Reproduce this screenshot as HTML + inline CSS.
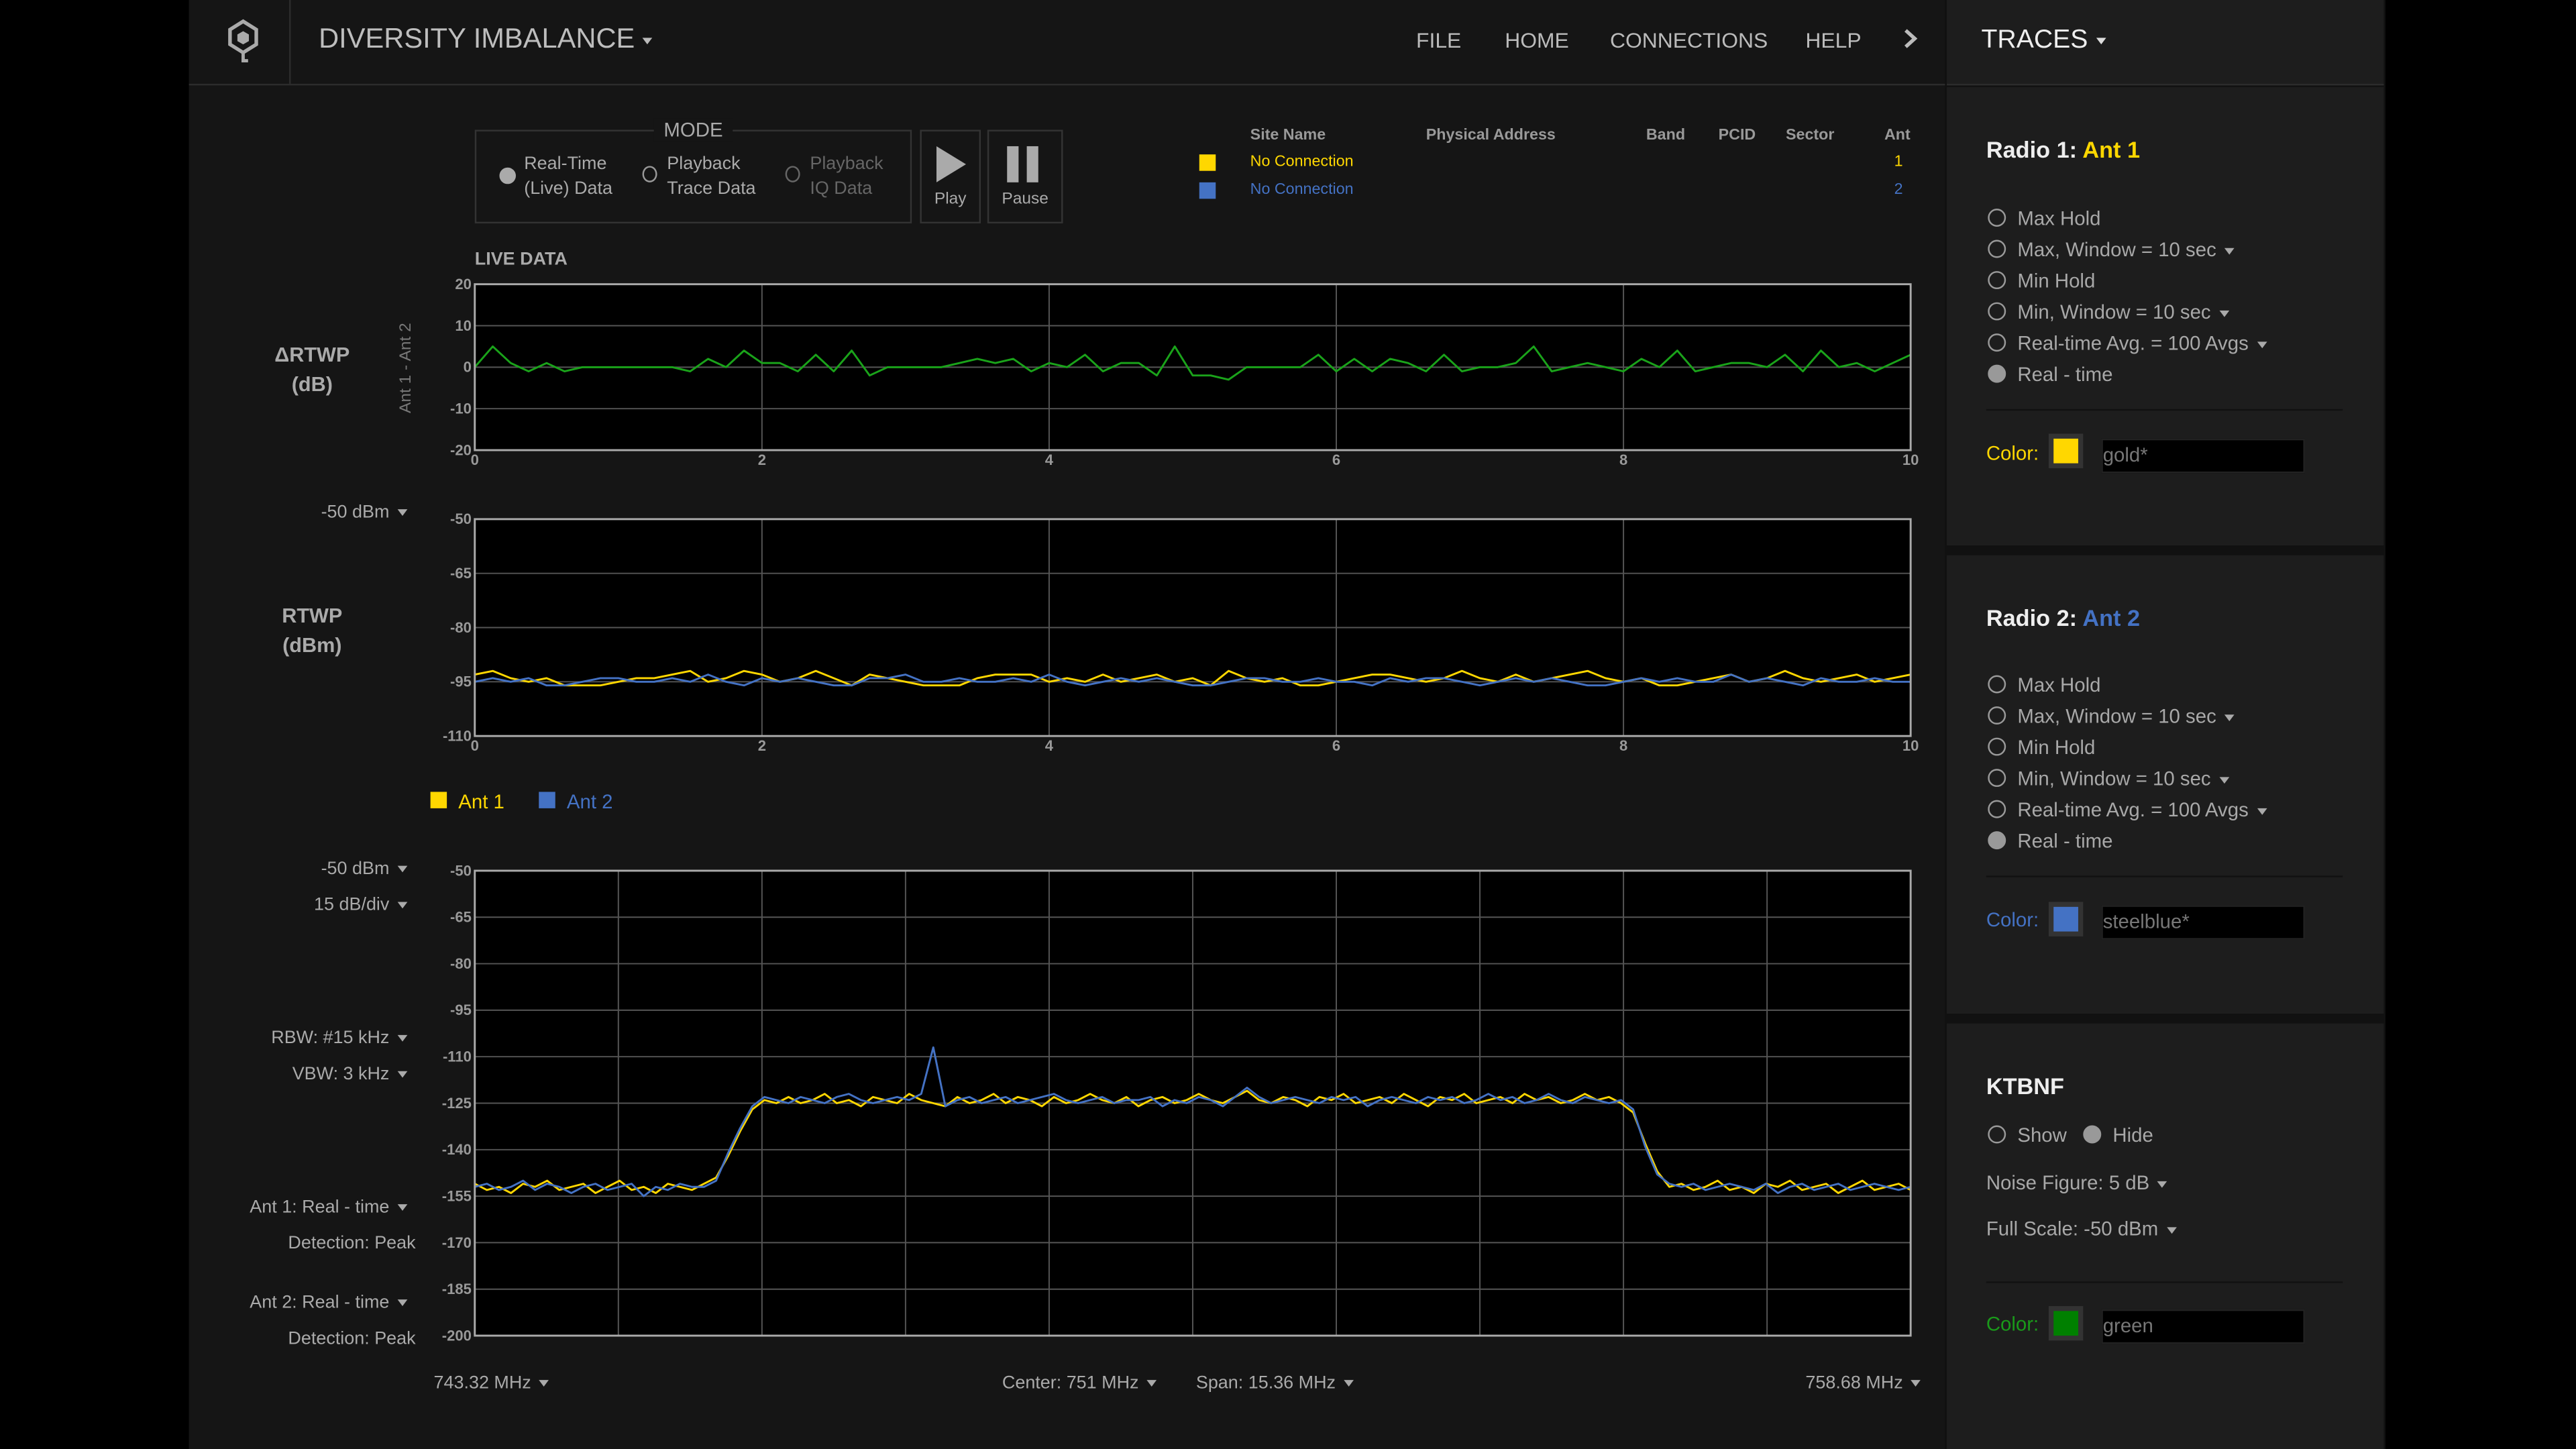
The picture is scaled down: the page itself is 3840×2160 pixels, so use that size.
<!DOCTYPE html>
<html><head><meta charset="utf-8">
<style>
html,body{margin:0;padding:0;width:3840px;height:2160px;overflow:hidden;background:#000;}
#root{position:absolute;left:0;top:0;width:1568px;height:882px;transform:scale(2.44898);transform-origin:0 0;background:#000;font-family:"Liberation Sans",sans-serif;color:#bbb;}
.abs{position:absolute;white-space:nowrap;}
#main{position:absolute;left:115px;top:0;width:1069px;height:882px;background:#151515;}
#rp{position:absolute;left:1184px;top:0;width:268px;height:882px;background:#111;}
.sec{position:absolute;left:1px;width:266px;background:#1d1d1d;}
.caret{display:inline-block;width:0;height:0;border-left:3px solid transparent;border-right:3px solid transparent;border-top:4px solid #aaa;margin-left:5px;vertical-align:middle;}
.opt{position:absolute;left:25px;font-size:12px;color:#a8a8a8;}
.rad{display:inline-block;width:9px;height:9px;border:1px solid #999;border-radius:50%;vertical-align:-1px;margin-right:7px;}
.rad.on{background:#999;}
.lbl{position:absolute;font-size:11px;color:#aaa;text-align:right;white-space:nowrap;}
.hdr{font-size:9.5px;font-weight:bold;color:#999;position:absolute;}
</style></head><body>
<div id="root">
<div id="main"></div>

<!-- header -->
<div class="abs" style="left:115px;top:0;width:1069px;height:51px;border-bottom:1px solid #2c2c2c;"></div>
<svg class="abs" style="left:138px;top:11px" width="20" height="28" viewBox="0 0 20 28"><path d="M10 2 L18 7 L18 16 L10 21 L2 16 L2 7 Z" fill="none" stroke="#aaa" stroke-width="2.2"/><path d="M10 8 L13.5 10 L13.5 14 L10 16 L6.5 14 L6.5 10Z" fill="#aaa"/><path d="M10 21 L10 26 L13 26" fill="none" stroke="#aaa" stroke-width="2"/></svg>
<div class="abs" style="left:176px;top:0;width:1px;height:51px;background:#2c2c2c"></div>
<div class="abs" style="left:194px;top:14px;font-size:17px;color:#bdbdbd;">DIVERSITY IMBALANCE<span class="caret" style="border-top-color:#bbb"></span></div>
<div class="abs" style="left:862px;top:17px;font-size:13px;">FILE</div>
<div class="abs" style="left:916px;top:17px;font-size:13px;">HOME</div>
<div class="abs" style="left:980px;top:17px;font-size:13px;">CONNECTIONS</div>
<div class="abs" style="left:1099px;top:17px;font-size:13px;">HELP</div>
<svg class="abs" style="left:1158px;top:17px" width="10" height="13"><path d="M2 1.5 L7.5 6.5 L2 11.5" fill="none" stroke="#bbb" stroke-width="2.2"/></svg>

<!-- mode box -->
<div class="abs" style="left:289px;top:79px;width:264px;height:55px;border:1px solid #333;"></div>
<div class="abs" style="left:398px;top:72px;font-size:12px;background:#151515;padding:0 6px;color:#aaa">MODE</div>
<div class="abs" style="left:304px;top:93px;font-size:11px;color:#aaa;line-height:15px"><span class="rad on" style="position:absolute;left:0;top:9px;width:8px;height:8px;border-color:#aaa;background:#aaa"></span><span style="position:absolute;left:15px">Real-Time<br>(Live) Data</span></div>
<div class="abs" style="left:391px;top:93px;font-size:11px;color:#aaa;line-height:15px"><span class="rad" style="position:absolute;left:0;top:8px;width:7px;height:8px"></span><span style="position:absolute;left:15px">Playback<br>Trace Data</span></div>
<div class="abs" style="left:478px;top:93px;font-size:11px;color:#666;line-height:15px"><span class="rad" style="position:absolute;left:0;top:8px;width:7px;height:8px;border-color:#666"></span><span style="position:absolute;left:15px">Playback<br>IQ Data</span></div>
<div class="abs" style="left:560px;top:79px;width:35px;height:55px;border:1px solid #333;"><svg style="position:absolute;left:9px;top:9px" width="18" height="22"><path d="M0 0 L18 11 L0 22Z" fill="#aaa"/></svg><div style="position:absolute;left:0;width:35px;top:36px;text-align:center;font-size:10px;color:#aaa">Play</div></div>
<div class="abs" style="left:601px;top:79px;width:44px;height:55px;border:1px solid #333;"><div style="position:absolute;left:11px;top:9px;width:7px;height:22px;background:#aaa"></div><div style="position:absolute;left:23px;top:9px;width:7px;height:22px;background:#aaa"></div><div style="position:absolute;left:0;width:44px;top:36px;text-align:center;font-size:10px;color:#aaa">Pause</div></div>

<!-- site table -->
<div class="hdr" style="left:761px;top:77px">Site Name</div>
<div class="hdr" style="left:868px;top:77px">Physical Address</div>
<div class="hdr" style="left:1002px;top:77px">Band</div>
<div class="hdr" style="left:1046px;top:77px">PCID</div>
<div class="hdr" style="left:1087px;top:77px">Sector</div>
<div class="hdr" style="left:1147px;top:77px">Ant</div>
<div class="abs" style="left:730px;top:94px;width:10px;height:10px;background:#ffd700"></div>
<div class="abs" style="left:761px;top:93px;font-size:9.5px;color:#ffd700">No Connection</div>
<div class="abs" style="left:1153px;top:93px;font-size:9.5px;color:#ffd700">1</div>
<div class="abs" style="left:730px;top:111px;width:10px;height:10px;background:#4472c4"></div>
<div class="abs" style="left:761px;top:110px;font-size:9.5px;color:#4472c4">No Connection</div>
<div class="abs" style="left:1153px;top:110px;font-size:9.5px;color:#4472c4">2</div>

<div class="abs" style="left:289px;top:152px;font-size:11px;font-weight:bold;color:#aaa">LIVE DATA</div>

<!-- left labels -->
<div class="abs" style="left:160px;top:207px;width:60px;text-align:center;font-size:12.5px;font-weight:bold;color:#aaa;line-height:18px">&#916;RTWP<br>(dB)</div>
<div class="abs" style="left:213px;top:218px;width:70px;text-align:center;font-size:10px;color:#777;transform:rotate(-90deg);transform-origin:35px 6px;">Ant 1 - Ant 2</div>
<div class="lbl" style="right:1320px;top:306px">-50 dBm<span class="caret"></span></div>
<div class="abs" style="left:160px;top:366px;width:60px;text-align:center;font-size:12.5px;font-weight:bold;color:#aaa;line-height:18px">RTWP<br>(dBm)</div>
<div class="abs" style="left:262px;top:481px;font-size:12px;color:#ffd700"><span style="display:inline-block;width:10px;height:10px;background:#ffd700;margin-right:7px"></span>Ant 1</div>
<div class="abs" style="left:328px;top:481px;font-size:12px;color:#4472c4"><span style="display:inline-block;width:10px;height:10px;background:#4472c4;margin-right:7px"></span>Ant 2</div>
<div class="lbl" style="right:1320px;top:523px">-50 dBm<span class="caret"></span></div>
<div class="lbl" style="right:1320px;top:545px">15 dB/div<span class="caret"></span></div>
<div class="lbl" style="right:1320px;top:626px">RBW: #15 kHz<span class="caret"></span></div>
<div class="lbl" style="right:1320px;top:648px">VBW: 3 kHz<span class="caret"></span></div>
<div class="lbl" style="right:1320px;top:729px">Ant 1: Real - time<span class="caret"></span></div>
<div class="lbl" style="right:1315px;top:751px">Detection: Peak</div>
<div class="lbl" style="right:1320px;top:787px">Ant 2: Real - time<span class="caret"></span></div>
<div class="lbl" style="right:1315px;top:809px">Detection: Peak</div>
<div class="abs" style="left:264px;top:836px;font-size:11px;color:#aaa">743.32 MHz<span class="caret"></span></div>
<div class="abs" style="left:610px;top:836px;font-size:11px;color:#aaa">Center: 751 MHz<span class="caret"></span></div>
<div class="abs" style="left:728px;top:836px;font-size:11px;color:#aaa">Span: 15.36 MHz<span class="caret"></span></div>
<div class="abs" style="left:1099px;top:836px;font-size:11px;color:#aaa">758.68 MHz<span class="caret"></span></div>

<svg id="charts" class="abs" style="left:0;top:0" width="1184" height="882"></svg>

<!-- right panel -->
<div id="rp">
  <div class="sec" style="top:0;height:51px;border-bottom:1px solid #2c2c2c">
    <div class="abs" style="left:21px;top:16px;font-size:16px;color:#eee">TRACES<span class="caret" style="border-top-color:#ddd"></span></div>
  </div>
  <div class="sec" style="top:53px;height:279px">
    <div class="abs" style="left:24px;top:30px;font-size:14px;font-weight:bold;color:#eee">Radio 1: <span style="color:#ffd700">Ant 1</span></div>
    <div class="opt" style="top:73px"><span class="rad"></span>Max Hold</div>
    <div class="opt" style="top:92px"><span class="rad"></span>Max, Window = 10 sec<span class="caret"></span></div>
    <div class="opt" style="top:111px"><span class="rad"></span>Min Hold</div>
    <div class="opt" style="top:130px"><span class="rad"></span>Min, Window = 10 sec<span class="caret"></span></div>
    <div class="opt" style="top:149px"><span class="rad"></span>Real-time Avg. = 100 Avgs<span class="caret"></span></div>
    <div class="opt" style="top:168px"><span class="rad on"></span>Real - time</div>
    <div class="abs" style="left:24px;top:196px;width:217px;height:1px;background:#111"></div>
    <div class="abs" style="left:24px;top:216px;font-size:12px;color:#ffd700">Color:</div>
    <div class="abs" style="left:62px;top:211px;width:21px;height:21px;background:#333"><div style="margin:3px;width:15px;height:15px;background:#ffd700"></div></div>
    <div class="abs" style="left:94px;top:214px;width:122px;height:19px;background:#000;border:1px solid #222;font-size:12px;color:#777;line-height:19px">gold*</div>
  </div>
  <div class="sec" style="top:338px;height:279px">
    <div class="abs" style="left:24px;top:30px;font-size:14px;font-weight:bold;color:#eee">Radio 2: <span style="color:#4472c4">Ant 2</span></div>
    <div class="opt" style="top:72px"><span class="rad"></span>Max Hold</div>
    <div class="opt" style="top:91px"><span class="rad"></span>Max, Window = 10 sec<span class="caret"></span></div>
    <div class="opt" style="top:110px"><span class="rad"></span>Min Hold</div>
    <div class="opt" style="top:129px"><span class="rad"></span>Min, Window = 10 sec<span class="caret"></span></div>
    <div class="opt" style="top:148px"><span class="rad"></span>Real-time Avg. = 100 Avgs<span class="caret"></span></div>
    <div class="opt" style="top:167px"><span class="rad on"></span>Real - time</div>
    <div class="abs" style="left:24px;top:195px;width:217px;height:1px;background:#111"></div>
    <div class="abs" style="left:24px;top:215px;font-size:12px;color:#4472c4">Color:</div>
    <div class="abs" style="left:62px;top:211px;width:21px;height:21px;background:#333"><div style="margin:3px;width:15px;height:15px;background:#4472c4"></div></div>
    <div class="abs" style="left:94px;top:213px;width:122px;height:19px;background:#000;border:1px solid #222;font-size:12px;color:#777;line-height:19px">steelblue*</div>
  </div>
  <div class="sec" style="top:623px;height:259px">
    <div class="abs" style="left:24px;top:30px;font-size:14px;font-weight:bold;color:#eee">KTBNF</div>
    <div class="opt" style="top:61px"><span class="rad"></span>Show</div>
    <div class="opt" style="left:83px;top:61px"><span class="rad on"></span>Hide</div>
    <div class="opt" style="left:24px;top:90px">Noise Figure: 5 dB<span class="caret"></span></div>
    <div class="opt" style="left:24px;top:118px">Full Scale: -50 dBm<span class="caret"></span></div>
    <div class="abs" style="left:24px;top:157px;width:217px;height:1px;background:#111"></div>
    <div class="abs" style="left:24px;top:176px;font-size:12px;color:#1a9a1a">Color:</div>
    <div class="abs" style="left:62px;top:172px;width:21px;height:21px;background:#333"><div style="margin:3px;width:15px;height:15px;background:#008000"></div></div>
    <div class="abs" style="left:94px;top:174px;width:122px;height:19px;background:#000;border:1px solid #222;font-size:12px;color:#777;line-height:19px">green</div>
  </div>
</div>
</div>

<script>
// ---- data ----
const deltaTimeMax = 10;
const deltaValues = [0,5,1,-1,1,-1,0,0,0,0,0,0,-1,2,0,4,1,1,-1,3,-1,4,-2,0,0,0,0,1,2,1,2,-1,1,0,3,-1,1,1,-2,5,-2,-2,-3,0,0,0,0,3,-1,2,-1,2,1,-1,3,-1,0,0,1,5,-1,0,1,0,-1,2,0,4,-1,0,1,1,0,3,-1,4,0,1,-1,1,3];
const deltaYTicks = [20,10,0,-10,-20];
const timeTicks = [0,2,4,6,8,10];
const rtwpAnt1 = [-93,-92,-94,-95,-94,-96,-96,-96,-95,-94,-94,-93,-92,-95,-94,-92,-93,-95,-94,-92,-94,-96,-93,-94,-95,-96,-96,-96,-94,-93,-93,-93,-95,-94,-95,-93,-95,-94,-93,-95,-94,-96,-92,-94,-95,-94,-96,-96,-95,-94,-93,-93,-94,-95,-94,-92,-94,-95,-93,-95,-94,-93,-92,-94,-95,-94,-96,-96,-95,-94,-93,-95,-94,-92,-94,-95,-94,-93,-95,-94,-93];
const rtwpAnt2 = [-95,-94,-95,-94,-96,-96,-95,-94,-94,-95,-95,-94,-95,-93,-95,-96,-94,-95,-94,-95,-96,-96,-94,-94,-93,-95,-95,-94,-95,-95,-94,-95,-93,-95,-96,-95,-94,-95,-94,-95,-96,-96,-95,-94,-94,-95,-95,-94,-95,-95,-96,-94,-95,-94,-94,-95,-96,-95,-94,-95,-94,-95,-96,-96,-95,-94,-95,-94,-95,-95,-93,-95,-94,-95,-96,-94,-95,-95,-94,-95,-95];
const rtwpYTicks = [-50,-65,-80,-95,-110];
const specStartMHz = 743.32, specStopMHz = 758.68;
const specAnt1 = [-151,-153,-152,-154,-151,-152,-150,-153,-152,-151,-154,-152,-150,-153,-152,-154,-151,-152,-153,-151,
-149,-142,-134,-127,-124,-125,-123,-125,-124,-122,-125,-124,-126,-123,-124,-125,-122,-124,-125,-126,
-123,-125,-124,-122,-125,-123,-124,-126,-123,-125,-124,-122,-124,-125,-123,-126,-124,-123,-125,-124,
-122,-124,-125,-123,-121,-124,-125,-123,-124,-126,-123,-124,-122,-125,-124,-123,-125,-122,-124,-126,
-123,-124,-122,-125,-124,-123,-125,-122,-124,-123,-125,-124,-122,-124,-123,-125,-128,-138,-147,-152,
-151,-153,-152,-150,-153,-152,-154,-151,-152,-150,-153,-152,-151,-154,-152,-150,-153,-152,-151,-153];
const specAnt2 = [-152,-151,-153,-152,-150,-153,-151,-152,-154,-152,-151,-153,-152,-151,-155,-152,-153,-151,-152,-152,
-150,-141,-133,-126,-123,-124,-125,-123,-124,-125,-123,-122,-124,-125,-124,-123,-124,-122,-107,-126,
-124,-123,-125,-124,-123,-125,-124,-123,-122,-124,-125,-124,-123,-125,-124,-124,-123,-126,-124,-125,
-123,-124,-126,-123,-120,-123,-125,-124,-123,-124,-125,-123,-124,-123,-126,-124,-123,-124,-125,-123,
-124,-123,-125,-124,-122,-124,-123,-125,-124,-122,-124,-125,-123,-124,-125,-124,-127,-139,-148,-151,
-152,-151,-153,-152,-151,-152,-153,-151,-154,-152,-151,-153,-152,-151,-153,-152,-151,-152,-153,-152];
const specYTicks = [-50,-65,-80,-95,-110,-125,-140,-155,-170,-185,-200];
const specXDivs = [0,1,2,3,4,5,6,7,8,9,10];

// ---- drawing ----
const NS='http://www.w3.org/2000/svg';
const svg=document.getElementById('charts');
function mk(tag,attrs,parent){const e=document.createElementNS(NS,tag);for(const k in attrs)e.setAttribute(k,attrs[k]);(parent||svg).appendChild(e);return e;}
function scale(d0,d1,r0,r1){return v=>r0+(v-d0)/(d1-d0)*(r1-r0);}
function frame(name,L,T,R,B){
  const g=mk('g',{});
  
  
  const bg=mk('rect',{x:L,y:T,width:R-L,height:B-T,fill:'#000'},g);
  
  
  return g;
}
function hgrid(g,ticks,ys,L,R,name){
  ticks.forEach(t=>{const y=ys(t);
    const ln=mk('line',{x1:L,x2:R,y1:y,y2:y,stroke:'#555','stroke-width':0.8},g);
    
    
    const tx=mk('text',{x:L-2,y:y+3,'text-anchor':'end','font-size':9,'font-weight':'bold',fill:'#999','font-family':'Liberation Sans, sans-serif'},g);
    tx.textContent=t;
    
    
  });
}
function vgrid(g,ticks,xs,T,B,name,labels){
  ticks.forEach(t=>{const x=xs(t);
    const ln=mk('line',{x1:x,x2:x,y1:T,y2:B,stroke:'#555','stroke-width':0.8},g);
    
    
    if(labels){const tx=mk('text',{x:x,y:B+9,'text-anchor':'middle','font-size':9,'font-weight':'bold',fill:'#999','font-family':'Liberation Sans, sans-serif'},g);
      tx.textContent=t;
      
      }
  });
}
function border(g,L,T,R,B){const r=mk('rect',{x:L,y:T,width:R-L,height:B-T,fill:'none',stroke:'#aaa','stroke-width':1.2},g);
  
  }
function line(g,vals,xs,ys,xmax,color,name){
  const n=vals.length;
  const pts=vals.map((v,i)=>xs(i/(n-1)*xmax).toFixed(2)+','+ys(v).toFixed(2)).join(' ');
  const p=mk('polyline',{points:pts,fill:'none',stroke:color,'stroke-width':1.2,'stroke-linejoin':'round'},g);
  
  
}
// chart 1
(function(){const L=289,T=173,R=1163,B=274;
  const g=frame('delta-rtwp-chart',L,T,R,B);
  const xs=scale(0,deltaTimeMax,L,R), ys=scale(-20,20,B,T);
  hgrid(g,deltaYTicks,ys,L,R,'delta-y');
  vgrid(g,timeTicks,xs,T,B,'delta-x',true);
  line(g,deltaValues,xs,ys,deltaTimeMax,'#1aa31a','delta-rtwp-line');
  border(g,L,T,R,B);
})();
// chart 2
(function(){const L=289,T=316,R=1163,B=448;
  const g=frame('rtwp-chart',L,T,R,B);
  const xs=scale(0,deltaTimeMax,L,R), ys=scale(-110,-50,B,T);
  hgrid(g,rtwpYTicks,ys,L,R,'rtwp-y');
  vgrid(g,timeTicks,xs,T,B,'rtwp-x',true);
  line(g,rtwpAnt1,xs,ys,deltaTimeMax,'#ffd700','rtwp-ant1-line');
  line(g,rtwpAnt2,xs,ys,deltaTimeMax,'#4472c4','rtwp-ant2-line');
  border(g,L,T,R,B);
})();
// chart 3
(function(){const L=289,T=530,R=1163,B=813;
  const g=frame('spectrum-chart',L,T,R,B);
  const span=specStopMHz-specStartMHz;
  const xs=scale(0,span,L,R), ys=scale(-200,-50,B,T);
  const xd=scale(0,10,L,R);
  hgrid(g,specYTicks,ys,L,R,'spec-y');
  vgrid(g,specXDivs,xd,T,B,'spec-x',false);
  line(g,specAnt1,xs,ys,span,'#ffd700','spectrum-ant1-line');
  line(g,specAnt2,xs,ys,span,'#4472c4','spectrum-ant2-line');
  border(g,L,T,R,B);
})();
</script>
</body></html>
